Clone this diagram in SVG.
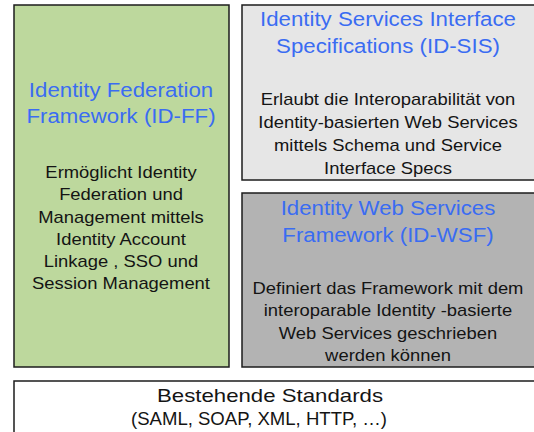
<svg xmlns="http://www.w3.org/2000/svg" width="534" height="432" viewBox="0 0 534 432">
  <style>
    .box { stroke: #1c1c1c; stroke-width: 1.5; }
    .title { font-family: "Liberation Sans", Arial, sans-serif; font-size: 21px; fill: #3a6cf2; text-anchor: middle; }
    .body { font-family: "Liberation Sans", Arial, sans-serif; font-size: 16px; fill: #141414; text-anchor: middle; }
    .base { font-family: "Liberation Sans", Arial, sans-serif; font-size: 19px; fill: #141414; text-anchor: middle; }
  </style>
  <rect width="534" height="432" fill="#ffffff"/>

  <!-- ID-FF: left column -->
  <g id="id-ff">
    <rect class="box" x="14" y="5" width="215" height="362" fill="#bdd89d"/>
    <g transform="translate(121,0) scale(1.06,1)">
      <text class="title" x="0" y="97.5">Identity Federation</text>
      <text class="title" x="0" y="123.5">Framework (ID-FF)</text>
    </g>
    <g transform="translate(121,0) scale(1.15,1)">
      <text class="body" x="0" y="178">Ermöglicht Identity</text>
      <text class="body" x="0" y="200.3">Federation und</text>
      <text class="body" x="0" y="222.6">Management mittels</text>
      <text class="body" x="0" y="244.9">Identity Account</text>
      <text class="body" x="0" y="267.2">Linkage , SSO und</text>
      <text class="body" x="0" y="289.5">Session Management</text>
    </g>
  </g>

  <!-- ID-SIS: upper right -->
  <g id="id-sis">
    <rect class="box" x="242" y="5" width="300" height="175" fill="#e6e6e6"/>
    <g transform="translate(388,0) scale(1.06,1)">
      <text class="title" x="0" y="26.5">Identity Services Interface</text>
      <text class="title" x="0" y="53">Specifications (ID-SIS)</text>
    </g>
    <g transform="translate(388,0) scale(1.15,1)">
      <text class="body" x="0" y="105">Erlaubt die Interoparabilität von</text>
      <text class="body" x="0" y="128">Identity-basierten Web Services</text>
      <text class="body" x="0" y="151">mittels Schema und Service</text>
      <text class="body" x="0" y="174">Interface Specs</text>
    </g>
  </g>

  <!-- ID-WSF: lower right -->
  <g id="id-wsf">
    <rect class="box" x="242" y="193" width="300" height="174" fill="#b3b3b3"/>
    <g transform="translate(388,0) scale(1.06,1)">
      <text class="title" x="0" y="215.5">Identity Web Services</text>
      <text class="title" x="0" y="242">Framework (ID-WSF)</text>
    </g>
    <g transform="translate(388,0) scale(1.15,1)">
      <text class="body" x="0" y="294">Definiert das Framework mit dem</text>
      <text class="body" x="0" y="316.5">interoparable Identity -basierte</text>
      <text class="body" x="0" y="339">Web Services geschrieben</text>
      <text class="body" x="0" y="361.5">werden können</text>
    </g>
  </g>

  <!-- Existing standards: base layer -->
  <g id="standards">
    <rect class="box" x="14" y="381" width="530" height="60" fill="#ffffff"/>
    <text class="base" x="270" y="402" textLength="226" lengthAdjust="spacingAndGlyphs">Bestehende Standards</text>
    <text class="base" x="259" y="425" textLength="256" lengthAdjust="spacingAndGlyphs">(SAML, SOAP, XML, HTTP, …)</text>
  </g>

  <g id="connectors"/>
</svg>
